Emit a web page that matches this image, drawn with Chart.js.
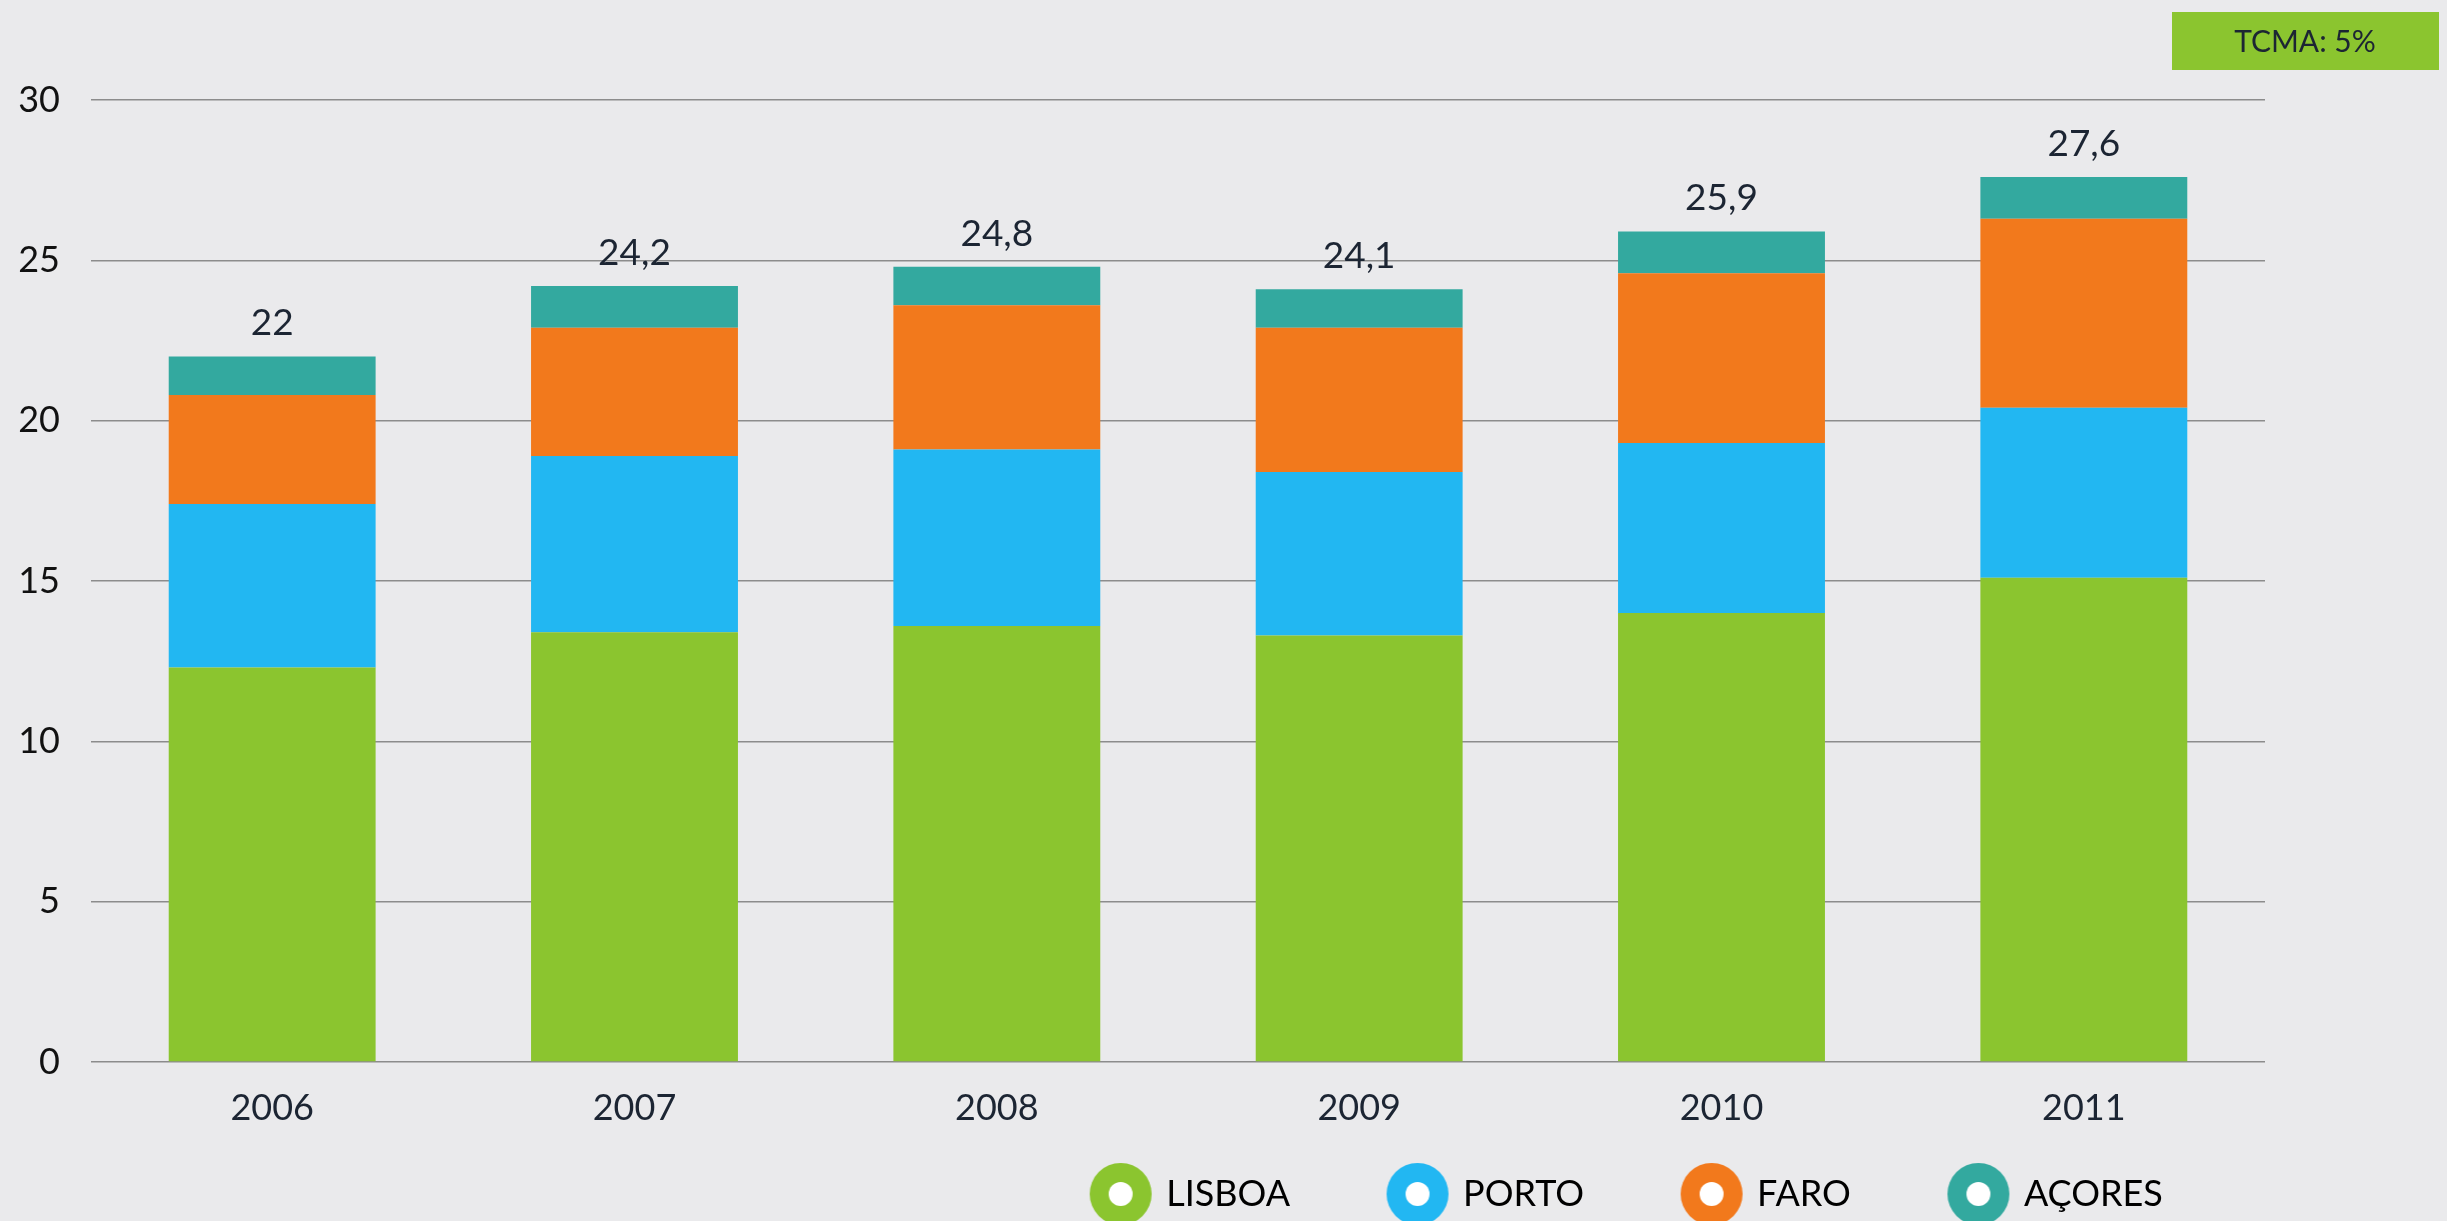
<!DOCTYPE html>
<html>
<head>
<meta charset="utf-8">
<script src="https://cdn.jsdelivr.net/npm/chart.js@4.4.1/dist/chart.umd.min.js"></script>
<style>
  html, body { margin: 0; padding: 0; background: #eaeaec; }
  canvas { display: block; }
</style>
</head>
<body>
<canvas id="myChart" width="2447" height="1221"></canvas>
<script>
const years = ["2006", "2007", "2008", "2009", "2010", "2011"];
const lisboa = [12.3, 13.4, 13.6, 13.3, 14.0, 15.1];
const porto = [5.1, 5.5, 5.5, 5.1, 5.3, 5.3];
const faro = [3.4, 4.0, 4.5, 4.5, 5.3, 5.9];
const acores = [1.2, 1.3, 1.2, 1.2, 1.3, 1.3];
const seriesNames = ["LISBOA", "PORTO", "FARO", "AÇORES"];
const yTicks = [0, 5, 10, 15, 20, 25, 30];
const tcmaText = "TCMA: 5%";

const colors = ["#8bc52f", "#22b7f2", "#f2791c", "#33a99f"];
const textColor = "#1c2533";

Chart.defaults.font.family = "Lato, 'Open Sans', sans-serif";

// legend marker: coloured disc with a white dot
function markerFor(color) {
  const c = document.createElement("canvas");
  c.width = 64;
  c.height = 64;
  const ctx = c.getContext("2d");
  ctx.fillStyle = color;
  ctx.beginPath();
  ctx.arc(32, 32, 31, 0, Math.PI * 2);
  ctx.fill();
  ctx.fillStyle = "#ffffff";
  ctx.beginPath();
  ctx.arc(32, 32, 12, 0, Math.PI * 2);
  ctx.fill();
  return c;
}

function totalLabel(i) {
  const t = lisboa[i] + porto[i] + faro[i] + acores[i];
  let s = t.toFixed(1);
  if (s.endsWith(".0")) s = s.slice(0, -2);
  return s.replace(".", ",");
}

const totalsPlugin = {
  id: "totals",
  afterDatasetsDraw(chart) {
    const ctx = chart.ctx;
    const xs = chart.scales.x;
    const ys = chart.scales.y;
    ctx.save();
    ctx.font = "37px Lato";
    ctx.fillStyle = textColor;
    ctx.textAlign = "center";
    ctx.textBaseline = "middle";
    years.forEach((y, i) => {
      const total = lisboa[i] + porto[i] + faro[i] + acores[i];
      ctx.fillText(totalLabel(i), xs.getPixelForValue(i), ys.getPixelForValue(total) - 33);
    });
    ctx.restore();
  }
};

const tcmaPlugin = {
  id: "tcma",
  afterDraw(chart) {
    const ctx = chart.ctx;
    const x = chart.width - 275;
    ctx.save();
    ctx.fillStyle = "#8bc52f";
    ctx.fillRect(x, 12, 267, 58);
    ctx.font = "30px Lato";
    ctx.fillStyle = textColor;
    ctx.textAlign = "center";
    ctx.textBaseline = "middle";
    ctx.fillText(tcmaText, x + 133, 42);
    ctx.restore();
  }
};

// legend sits lower and to the right of where chart.js would put it
const moveLegend = {
  id: "moveLegend",
  beforeDraw(chart) {
    const lg = chart.legend;
    lg.top = chart.height - 145;
    lg.bottom = lg.top + 146;
    lg.left = 1628 - 1000;
    lg.right = 1628 + 1000;
  }
};

const seriesData = [lisboa, porto, faro, acores];

new Chart(document.getElementById("myChart"), {
  type: "bar",
  data: {
    labels: years,
    datasets: seriesNames.map((name, k) => ({
      label: name,
      data: seriesData[k],
      backgroundColor: colors[k],
      borderWidth: 0,
      barPercentage: 0.571,
      categoryPercentage: 1
    }))
  },
  options: {
    responsive: false,
    animation: false,
    layout: { padding: { left: 15, right: 182, top: 100, bottom: 33 } },
    plugins: {
      tooltip: { enabled: false },
      legend: {
        position: "bottom",
        maxHeight: 60,
        labels: {
          usePointStyle: true,
          pointStyleWidth: 55,
          padding: 100,
          color: textColor,
          font: { size: 36 },
          generateLabels(chart) {
            return chart.data.datasets.map((ds, i) => ({
              text: ds.label,
              fillStyle: ds.backgroundColor,
              strokeStyle: ds.backgroundColor,
              lineWidth: 0,
              pointStyle: markerFor(ds.backgroundColor),
              hidden: false,
              datasetIndex: i
            }));
          }
        }
      }
    },
    scales: {
      x: {
        stacked: true,
        grid: { display: false, drawTicks: false },
        border: { display: false },
        ticks: { color: textColor, font: { size: 36 }, padding: 25 },
        afterFit(axis) { axis.height = 66; }
      },
      y: {
        stacked: true,
        min: 0,
        max: 30,
        afterBuildTicks(axis) {
          axis.ticks = yTicks.map(v => ({ value: v }));
        },
        grid: { color: "#8c8c8c", lineWidth: 1.5, drawTicks: false },
        border: { display: false },
        ticks: { color: "#111111", font: { size: 36 }, padding: 31 },
        afterFit(axis) { axis.width = 76; }
      }
    }
  },
  plugins: [totalsPlugin, tcmaPlugin, moveLegend]
});
</script>
</body>
</html>
